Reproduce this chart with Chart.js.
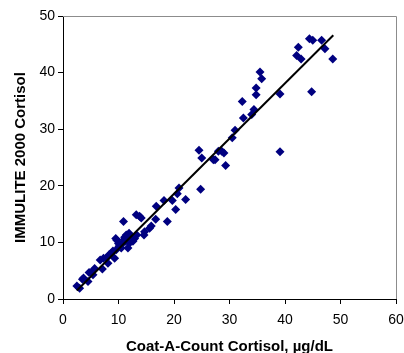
<!DOCTYPE html>
<html>
<head>
<meta charset="utf-8">
<script src="https://cdn.jsdelivr.net/npm/chart.js@4.4.0/dist/chart.umd.min.js"></script>
<style>
html,body{margin:0;padding:0;background:#fff;}
#wrap{width:404px;height:353px;}
</style>
</head>
<body>
<div id="wrap"><canvas id="c" width="404" height="353"></canvas></div>
<script>
const coatACount = [2.5,3.0,3.5,3.7,4.5,4.7,5.1,5.4,5.7,6.7,7.1,7.3,7.8,8.1,8.7,9.3,9.5,9.7,9.6,10.1,10.5,10.9,10.8,11.1,11.3,11.4,11.7,11.9,12.0,12.3,12.6,12.9,13.2,13.3,13.8,14.1,14.6,14.7,15.6,15.9,16.7,16.8,18.8,18.2,19.7,20.3,20.6,20.9,22.1,24.5,24.8,25.0,27.1,27.4,28.0,28.6,29.0,29.3,30.5,31.0,32.3,32.5,34.0,34.4,34.8,34.8,35.5,35.8,39.1,39.1,42.1,42.4,42.9,44.4,45.0,44.8,46.6,47.2,48.6,10.3,11.6,12.2,9.0,8.3,10.0,11.0];
const immulite = [2.3,1.9,3.5,3.7,3.1,4.7,4.7,4.3,5.4,6.9,5.3,7.2,7.2,6.3,8.1,7.2,10.7,10.4,8.7,9.3,9.0,13.7,9.9,10.9,10.2,11.3,9.0,11.6,9.9,10.4,10.2,10.7,14.9,11.3,14.6,14.3,11.3,11.9,12.5,12.9,14.1,16.4,13.7,17.4,17.4,15.8,18.6,19.6,17.6,26.3,19.4,24.9,24.6,24.6,26.1,26.1,25.8,23.6,28.5,29.8,34.9,32.0,32.6,33.5,37.3,36.1,40.1,38.9,36.2,26.0,43.0,44.5,42.4,46.0,45.7,36.6,45.7,44.2,42.4,9.6,10.6,11.0,8.5,7.8,9.8,10.5];
const fitX = [2.5, 48.7];
const fitY = [1.5, 46.6];
const xTicks = [0,10,20,30,40,50,60];
const yTicks = [0,10,20,30,40,50];

const frame = {
  id:'frame',
  beforeDatasetsDraw(chart){
    const a = chart.chartArea, ctx = chart.ctx;
    ctx.save();
    ctx.strokeStyle = '#8c8c8c';
    ctx.lineWidth = 1;
    ctx.beginPath();
    ctx.moveTo(a.left, a.top + 0.5);
    ctx.lineTo(a.right + 0.5, a.top + 0.5);
    ctx.lineTo(a.right + 0.5, a.bottom);
    ctx.stroke();
    ctx.restore();
  }
};

new Chart(document.getElementById('c'), {
  type: 'scatter',
  data: {
    datasets: [
      {
        type: 'line',
        data: fitX.map((x,i)=>({x:x, y:fitY[i]})),
        borderColor: '#000',
        borderWidth: 2,
        pointRadius: 0,
        fill: false,
        order: 0
      },
      {
        data: coatACount.map((x,i)=>({x:x, y:immulite[i]})),
        pointStyle: 'rectRot',
        pointRadius: 4.5,
        backgroundColor: '#000080',
        borderColor: '#000080',
        borderWidth: 0,
        order: 1
      }
    ]
  },
  options: {
    responsive: false,
    animation: false,
    devicePixelRatio: 1,
    layout: { padding: { left: 0, top: 16, right: 8, bottom: 0 } },
    plugins: { legend: { display: false }, tooltip: { enabled: false } },
    scales: {
      x: {
        type: 'linear', min: 0, max: 60,
        afterBuildTicks(s){ s.ticks = xTicks.map(v=>({value:v})); },
        afterFit(s){ s.height = 54; s.paddingLeft = 0; s.paddingRight = 0; },
        grid: { drawOnChartArea: false, drawTicks: true, tickLength: 5, color: '#000' },
        border: { display: true, color: '#000', width: 1 },
        ticks: { color: '#000', font: { family: 'Liberation Sans, Arial', size: 14 }, padding: 8, maxRotation: 0 },
        title: { display: true, text: 'Coat-A-Count Cortisol, µg/dL', color: '#000', font: { family: 'Liberation Sans, Arial', size: 15, weight: 'bold' }, padding: { top: 0, bottom: -3 } }
      },
      y: {
        type: 'linear', min: 0, max: 50,
        afterBuildTicks(s){ s.ticks = yTicks.map(v=>({value:v})); },
        afterFit(s){ s.width = 63; s.paddingTop = 0; s.paddingBottom = 0; },
        grid: { drawOnChartArea: false, drawTicks: true, tickLength: 5, color: '#000' },
        border: { display: true, color: '#000', width: 1 },
        ticks: { color: '#000', font: { family: 'Liberation Sans, Arial', size: 14 }, padding: 3 },
        title: { display: true, text: 'IMMULITE 2000 Cortisol', color: '#000', font: { family: 'Liberation Sans, Arial', size: 15, weight: 'bold' }, padding: { top: 12, bottom: 0 } }
      }
    }
  },
  plugins: [frame]
});
</script>
</body>
</html>
